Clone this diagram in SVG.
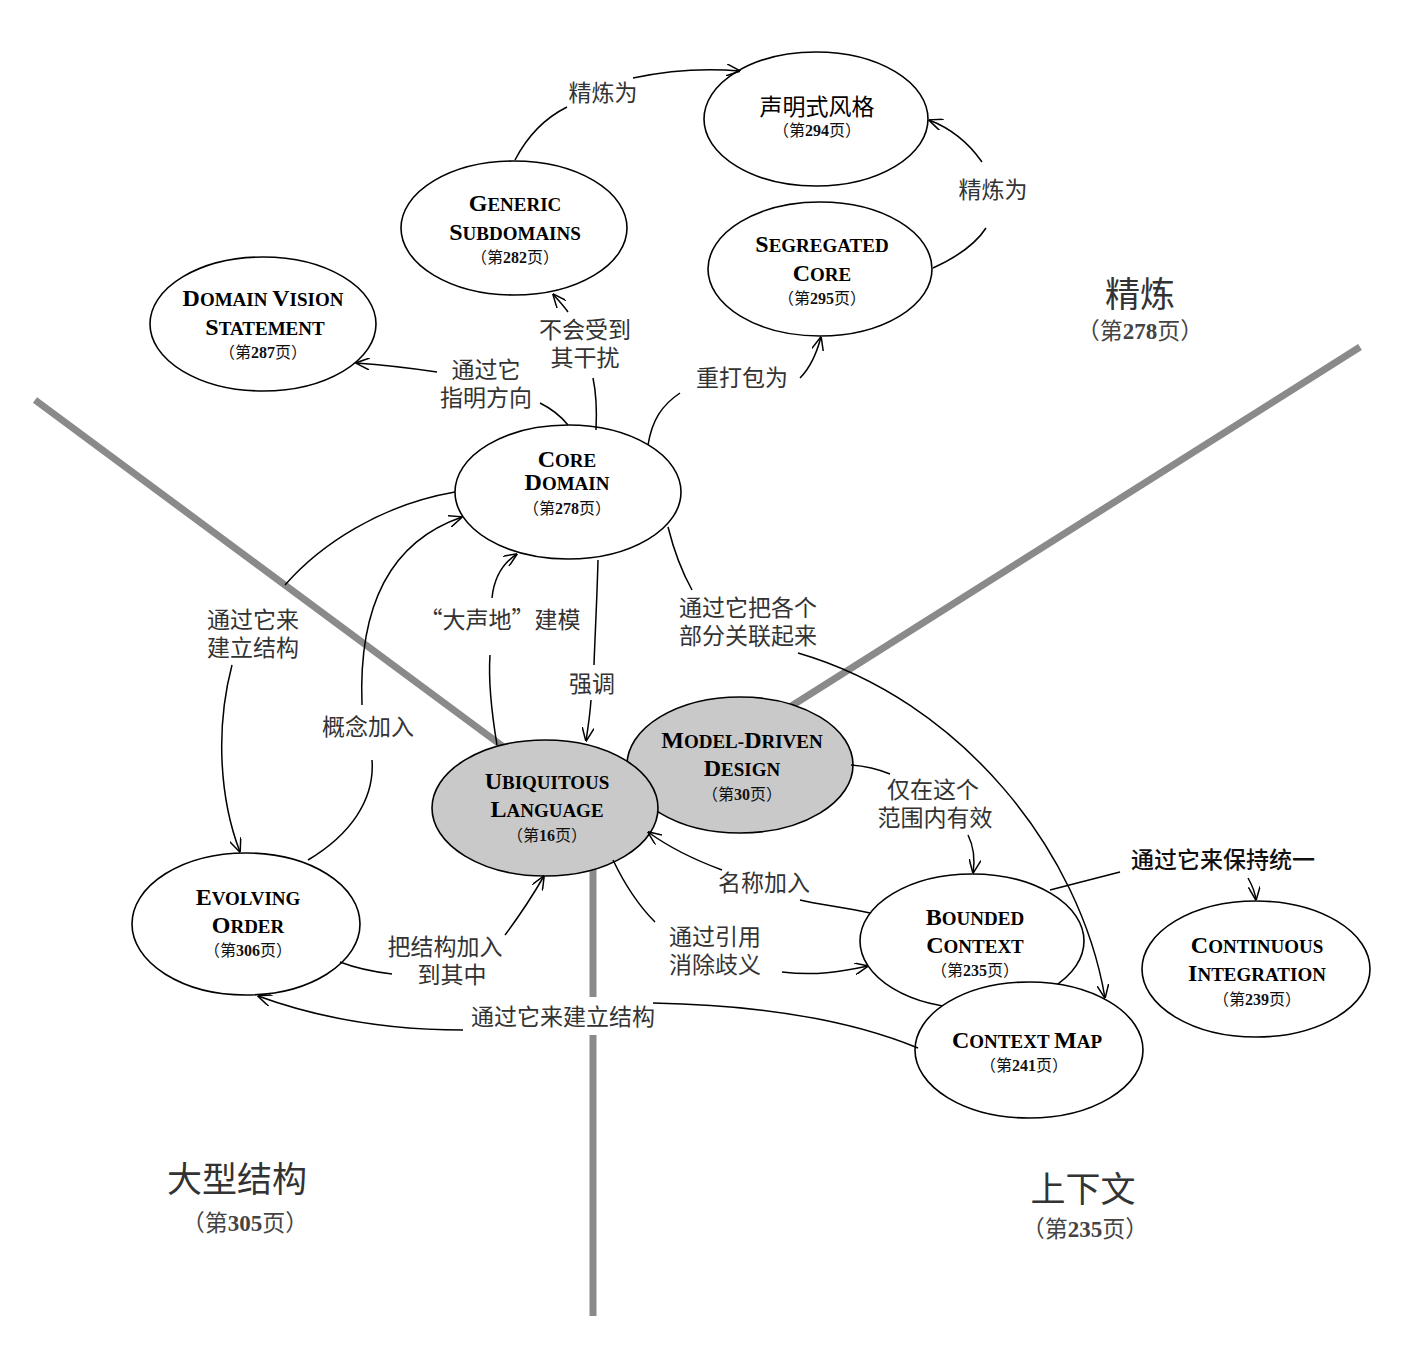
<svg xmlns="http://www.w3.org/2000/svg" width="1410" height="1356" viewBox="0 0 1410 1356">
<style>
.bg{fill:#ffffff}
.zone{stroke:#8a8a8a;stroke-width:7;fill:none;stroke-linecap:butt}
.node{fill:#ffffff;stroke:#000;stroke-width:1.6}
.gray{fill:#c9c9c9;stroke:#000;stroke-width:1.6}
.t{font-family:"Liberation Serif","Times New Roman",serif;font-weight:bold;fill:#000;text-anchor:middle}
.b{font-size:24px}
.s{font-size:19px}
.pg{font-family:"Liberation Serif","Noto Sans CJK SC",serif;font-size:16px;fill:#111;text-anchor:middle}
.num{font-weight:bold}
.cn{font-family:"Noto Sans CJK SC","Noto Sans CJK JP",sans-serif;font-size:23px;fill:#000;text-anchor:middle}
.lb{font-family:"Noto Sans CJK SC","Noto Sans CJK JP",sans-serif;font-size:23px;fill:#333;text-anchor:middle}
.lbk{font-family:"Noto Sans CJK SC","Noto Sans CJK JP",sans-serif;font-size:23px;fill:#111;text-anchor:middle;font-weight:500}
.rg{font-family:"Noto Sans CJK SC","Noto Sans CJK JP",sans-serif;font-size:35px;fill:#333;text-anchor:middle}
.rgp{font-family:"Liberation Serif","Noto Sans CJK SC",serif;font-size:23px;fill:#444;text-anchor:middle}
.c{fill:none;stroke:#000;stroke-width:1.5}
.a{marker-end:url(#arr)}
</style>
<defs>
<marker id="arr" viewBox="0 0 14 12" refX="13.5" refY="6" markerWidth="14" markerHeight="12" markerUnits="userSpaceOnUse" orient="auto">
<path d="M0,0 L14,6 L0,12" fill="none" stroke="#000" stroke-width="1.5"/>
</marker>
</defs>
<rect class="bg" x="0" y="0" width="1410" height="1356"/>

<g id="zones">
<line class="zone" x1="35" y1="400" x2="505" y2="748"/>
<line class="zone" x1="1360" y1="347" x2="785" y2="710"/>
<line class="zone" x1="593" y1="868" x2="593" y2="997"/>
<line class="zone" x1="593" y1="1035" x2="593" y2="1316"/>
</g>

<g id="region-labels">
<text class="rg" x="1140" y="307">精炼</text>
<text class="rgp" x="1140" y="339">（第<tspan class="num">278</tspan>页）</text>
<text class="rg" x="237" y="1192">大型结构</text>
<text class="rgp" x="245" y="1231">（第<tspan class="num">305</tspan>页）</text>
<text class="rg" x="1083" y="1202">上下文</text>
<text class="rgp" x="1085" y="1237">（第<tspan class="num">235</tspan>页）</text>
</g>

<g id="node-declarative">
<ellipse class="node" cx="816" cy="119" rx="112" ry="67"/>
<text class="cn" x="817" y="115">声明式风格</text>
<text class="pg" x="817" y="136">（第<tspan class="num">294</tspan>页）</text>
</g>

<g id="node-generic">
<ellipse class="node" cx="514" cy="228" rx="113" ry="67"/>
<text class="t" x="515" y="211"><tspan class="b">G</tspan><tspan class="s">ENERIC</tspan></text>
<text class="t" x="515" y="240"><tspan class="b">S</tspan><tspan class="s">UBDOMAINS</tspan></text>
<text class="pg" x="515" y="263">（第<tspan class="num">282</tspan>页）</text>
</g>

<g id="node-vision">
<ellipse class="node" cx="263" cy="324" rx="113" ry="67"/>
<text class="t" x="263" y="306"><tspan class="b">D</tspan><tspan class="s">OMAIN </tspan><tspan class="b">V</tspan><tspan class="s">ISION</tspan></text>
<text class="t" x="265" y="335"><tspan class="b">S</tspan><tspan class="s">TATEMENT</tspan></text>
<text class="pg" x="263" y="358">（第<tspan class="num">287</tspan>页）</text>
</g>

<g id="node-segregated">
<ellipse class="node" cx="820" cy="269" rx="112" ry="67"/>
<text class="t" x="822" y="252"><tspan class="b">S</tspan><tspan class="s">EGREGATED</tspan></text>
<text class="t" x="822" y="281"><tspan class="b">C</tspan><tspan class="s">ORE</tspan></text>
<text class="pg" x="822" y="304">（第<tspan class="num">295</tspan>页）</text>
</g>

<g id="node-core">
<ellipse class="node" cx="568" cy="492" rx="113" ry="67"/>
<text class="t" x="567" y="467"><tspan class="b">C</tspan><tspan class="s">ORE</tspan></text>
<text class="t" x="567" y="490"><tspan class="b">D</tspan><tspan class="s">OMAIN</tspan></text>
<text class="pg" x="567" y="514">（第<tspan class="num">278</tspan>页）</text>
</g>

<g id="node-mdd">
<ellipse class="gray" cx="740" cy="765" rx="113" ry="68"/>
<text class="t" x="742" y="748"><tspan class="b">M</tspan><tspan class="s">ODEL-</tspan><tspan class="b">D</tspan><tspan class="s">RIVEN</tspan></text>
<text class="t" x="742" y="776"><tspan class="b">D</tspan><tspan class="s">ESIGN</tspan></text>
<text class="pg" x="742" y="800">（第<tspan class="num">30</tspan>页）</text>
</g>

<g id="node-ul">
<ellipse class="gray" cx="545" cy="808" rx="113" ry="68"/>
<text class="t" x="547" y="789"><tspan class="b">U</tspan><tspan class="s">BIQUITOUS</tspan></text>
<text class="t" x="547" y="817"><tspan class="b">L</tspan><tspan class="s">ANGUAGE</tspan></text>
<text class="pg" x="547" y="841">（第<tspan class="num">16</tspan>页）</text>
</g>

<g id="node-evolving">
<ellipse class="node" cx="246" cy="924" rx="114" ry="71"/>
<text class="t" x="248" y="905"><tspan class="b">E</tspan><tspan class="s">VOLVING</tspan></text>
<text class="t" x="248" y="933"><tspan class="b">O</tspan><tspan class="s">RDER</tspan></text>
<text class="pg" x="248" y="956">（第<tspan class="num">306</tspan>页）</text>
</g>

<g id="node-bounded">
<ellipse class="node" cx="972" cy="941" rx="112" ry="67"/>
<text class="t" x="975" y="925"><tspan class="b">B</tspan><tspan class="s">OUNDED</tspan></text>
<text class="t" x="975" y="953"><tspan class="b">C</tspan><tspan class="s">ONTEXT</tspan></text>
<text class="pg" x="975" y="976">（第<tspan class="num">235</tspan>页）</text>
</g>

<g id="node-contextmap">
<ellipse class="node" cx="1029" cy="1050" rx="114" ry="68"/>
<text class="t" x="1027" y="1048"><tspan class="b">C</tspan><tspan class="s">ONTEXT </tspan><tspan class="b">M</tspan><tspan class="s">AP</tspan></text>
<text class="pg" x="1024" y="1071">（第<tspan class="num">241</tspan>页）</text>
</g>

<g id="node-ci">
<ellipse class="node" cx="1256" cy="969" rx="114" ry="68"/>
<text class="t" x="1257" y="953"><tspan class="b">C</tspan><tspan class="s">ONTINUOUS</tspan></text>
<text class="t" x="1257" y="981"><tspan class="b">I</tspan><tspan class="s">NTEGRATION</tspan></text>
<text class="pg" x="1257" y="1005">（第<tspan class="num">239</tspan>页）</text>
</g>

<g id="connectors">
<path class="c" d="M515,160 C528,135 545,118 567,107"/>
<path class="c a" d="M633,78 C670,70 705,68 740,71"/>
<path class="c" d="M933,268 C955,258 975,245 986,228"/>
<path class="c a" d="M982,162 C968,142 950,128 929,120"/>
<path class="c" d="M648,445 C652,420 662,405 680,393"/>
<path class="c a" d="M800,378 C810,368 817,352 821,337"/>
<path class="c" d="M596,430 C597,410 596,392 593,378"/>
<path class="c a" d="M568,312 C563,305 558,300 553,294"/>
<path class="c" d="M568,425 C560,415 550,408 540,403"/>
<path class="c a" d="M437,372 C410,368 385,365 356,363"/>
<path class="c" d="M308,860 C350,835 375,800 372,760"/>
<path class="c a" d="M362,705 C358,600 395,540 462,517"/>
<path class="c" d="M455,492 C380,505 320,545 285,585"/>
<path class="c a" d="M232,665 C215,730 220,800 240,852"/>
<path class="c" d="M497,745 C492,715 488,685 490,655"/>
<path class="c a" d="M492,598 C494,578 503,563 517,554"/>
<path class="c" d="M598,560 C597,600 595,635 594,665"/>
<path class="c a" d="M591,700 C590,715 588,728 586,741"/>
<path class="c" d="M668,527 C675,555 682,572 692,590"/>
<path class="c a" d="M798,653 C960,700 1080,850 1105,998"/>
<path class="c" d="M851,765 C865,766 878,769 890,774"/>
<path class="c a" d="M968,835 C974,847 975,860 973,873"/>
<path class="c" d="M870,913 C845,907 820,905 800,900"/>
<path class="c a" d="M722,870 C695,860 670,848 648,832"/>
<path class="c" d="M613,860 C625,885 638,905 655,922"/>
<path class="c a" d="M782,972 C815,976 840,972 868,966"/>
<path class="c" d="M918,1048 C850,1020 760,1005 653,1003"/>
<path class="c a" d="M463,1030 C380,1030 310,1015 258,996"/>
<path class="c" d="M340,962 C358,969 375,972 392,974"/>
<path class="c a" d="M505,935 C520,915 533,895 544,876"/>
<path class="c" d="M1050,890 L1120,872"/>
<path class="c a" d="M1248,878 C1252,885 1255,892 1256,900"/>
</g>

<g id="connector-labels">
<text class="lb" x="603" y="101">精炼为</text>
<text class="lb" x="993" y="198">精炼为</text>
<text class="lb" x="742" y="386">重打包为</text>
<text class="lb" x="585" y="338">不会受到<tspan x="585" dy="28">其干扰</tspan></text>
<text class="lb" x="486" y="378">通过它<tspan x="486" dy="28">指明方向</tspan></text>
<text class="lb" x="368" y="735">概念加入</text>
<text class="lb" x="253" y="628">通过它来<tspan x="253" dy="28">建立结构</tspan></text>
<text class="lb" x="500" y="628">“大声地”建模</text>
<text class="lb" x="592" y="692">强调</text>
<text class="lb" x="748" y="616">通过它把各个<tspan x="748" dy="28">部分关联起来</tspan></text>
<text class="lb" x="933" y="798">仅在这个<tspan x="935" dy="28">范围内有效</tspan></text>
<text class="lb" x="764" y="891">名称加入</text>
<text class="lb" x="715" y="945">通过引用<tspan x="715" dy="28">消除歧义</tspan></text>
<text class="lb" x="563" y="1025">通过它来建立结构</text>
<text class="lb" x="445" y="955">把结构加入<tspan x="452" dy="28">到其中</tspan></text>
<text class="lbk" x="1223" y="868">通过它来保持统一</text>
</g>
</svg>
